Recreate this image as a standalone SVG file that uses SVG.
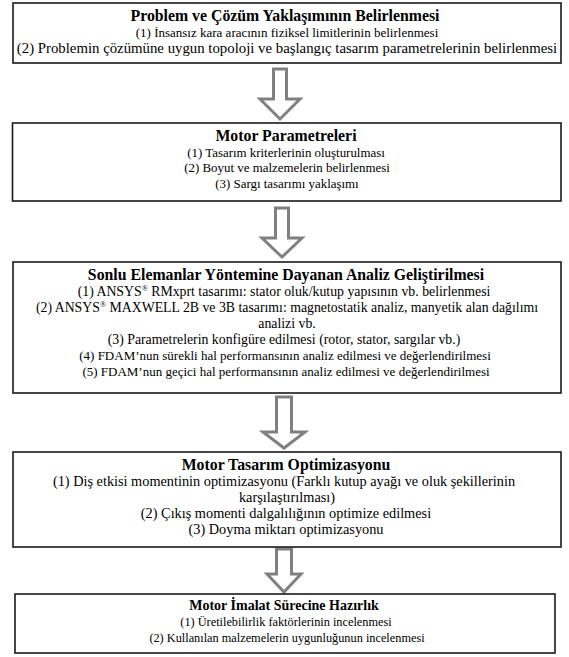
<svg xmlns="http://www.w3.org/2000/svg" width="569" height="657" viewBox="0 0 569 657">
<style>
.box{fill:#fff;stroke:#1a1a1a;stroke-width:1.6}
.arr{fill:#fff;stroke:#808080;stroke-width:3;stroke-linejoin:miter}
text{font-family:"Liberation Serif","Times New Roman",Tinos,serif;fill:#000;text-anchor:middle}
.t{font-weight:bold;font-size:15.8px}
.b2{font-size:12.9px}
.b3{font-size:13.8px}
.b4{font-size:14.3px}
.b5{font-size:12.3px}
.ts{font-weight:bold;font-size:14px}
</style>
<rect width="569" height="657" fill="#fff"/>
<g id="connectors">
<polygon class="arr" points="273.5,69 286.5,69 286.5,99 300,99 280,119 260,99 273.5,99"/>
<polygon class="arr" points="275.5,208 288.5,208 288.5,238 302,238 282,257 262,238 275.5,238"/>
<polygon class="arr" points="276.5,397 291.5,397 291.5,432 305,432 284,448 263,432 276.5,432"/>
<polygon class="arr" points="276.5,549 291.5,549 291.5,574 301,574 284,592 267,574 276.5,574"/>
</g>
<g id="node1">
<rect class="box" x="13" y="3" width="548" height="60"/>
<text class="t" x="285" y="21">Problem ve Çözüm Yaklaşımının Belirlenmesi</text>
<text x="287" y="37" font-size="13">(1) İnsansız kara aracının fiziksel limitlerinin belirlenmesi</text>
<text x="287" y="53" font-size="14.8">(2) Problemin çözümüne uygun topoloji ve başlangıç tasarım parametrelerinin belirlenmesi</text>
</g>
<g id="node2">
<rect class="box" x="12.5" y="123" width="548.5" height="78"/>
<text class="t" x="286" y="141">Motor Parametreleri</text>
<text class="b2" x="286" y="157">(1) Tasarım kriterlerinin oluşturulması</text>
<text class="b2" x="287" y="172">(2) Boyut ve malzemelerin belirlenmesi</text>
<text class="b2" x="287" y="188">(3) Sargı tasarımı yaklaşımı</text>
</g>
<g id="node3">
<rect class="box" x="13" y="262" width="548" height="131"/>
<text class="t" x="286" y="280">Sonlu Elemanlar Yöntemine Dayanan Analiz Geliştirilmesi</text>
<text class="b3" x="284" y="296">(1) ANSYS<tspan font-size="8" dy="-5">®</tspan><tspan dy="5"> RMxprt tasarımı: stator oluk/kutup yapısının vb. belirlenmesi</tspan></text>
<text class="b3" x="287" y="312">(2) ANSYS<tspan font-size="8" dy="-5">®</tspan><tspan dy="5"> MAXWELL 2B ve 3B tasarımı: magnetostatik analiz, manyetik alan dağılımı</tspan></text>
<text class="b3" x="287" y="328">analizi vb.</text>
<text class="b3" x="284" y="344">(3) Parametrelerin konfigüre edilmesi (rotor, stator, sargılar vb.)</text>
<text x="285" y="360" font-size="13">(4) FDAM’nun sürekli hal performansının analiz edilmesi ve değerlendirilmesi</text>
<text x="286" y="376" font-size="13">(5) FDAM’nun geçici hal performansının analiz edilmesi ve değerlendirilmesi</text>
</g>
<g id="node4">
<rect class="box" x="13" y="452" width="548" height="95"/>
<text class="t" x="286" y="470" font-size="15">Motor Tasarım Optimizasyonu</text>
<text class="b4" x="284" y="486">(1) Diş etkisi momentinin optimizasyonu (Farklı kutup ayağı ve oluk şekillerinin</text>
<text class="b4" x="287" y="502">karşılaştırılması)</text>
<text class="b4" x="286" y="518">(2) Çıkış momenti dalgalılığının optimize edilmesi</text>
<text class="b4" x="286" y="534">(3) Doyma miktarı optimizasyonu</text>
</g>
<g id="node5">
<rect class="box" x="15" y="594" width="540" height="59"/>
<text class="ts" x="284" y="610">Motor İmalat Sürecine Hazırlık</text>
<text class="b5" x="286" y="626">(1) Üretilebilirlik faktörlerinin incelenmesi</text>
<text class="b5" x="287" y="642">(2) Kullanılan malzemelerin uygunluğunun incelenmesi</text>
</g>
</svg>
